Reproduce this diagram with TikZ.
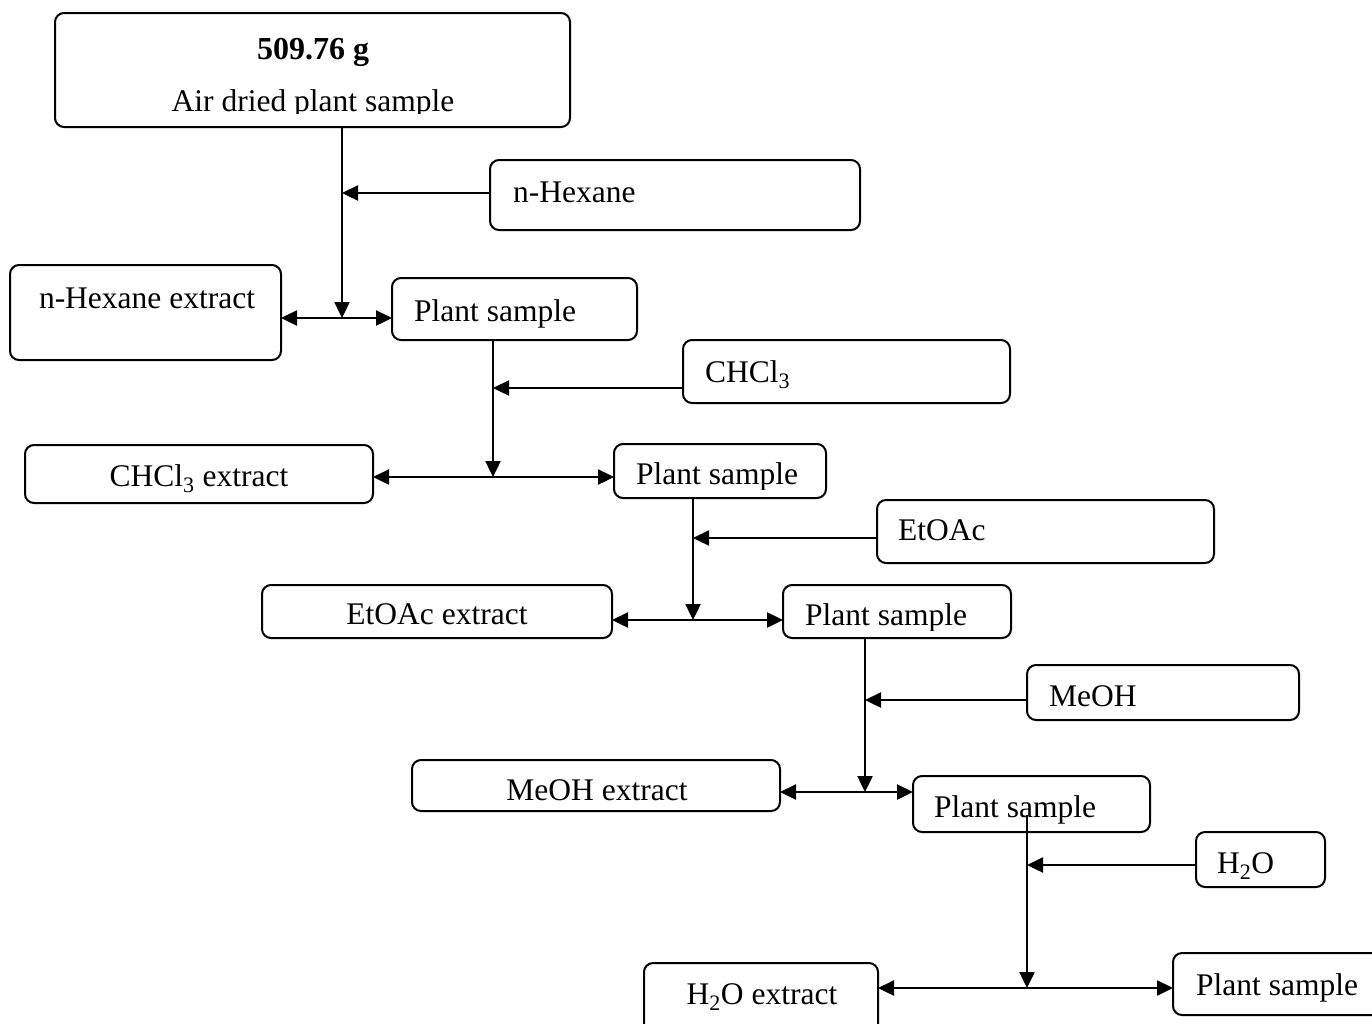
\documentclass[tikz,border=0pt]{standalone}
\usepackage{fontspec}
\setmainfont{Liberation Serif}
\usetikzlibrary{arrows.meta}
\begin{document}
\begin{tikzpicture}[x=1pt,y=-1pt,
  box/.style={draw, line width=2pt, rounded corners=9pt, inner sep=0pt, outer sep=0pt, anchor=north west},
  txt/.style={inner sep=0pt, font=\fontsize{31.5}{34}\selectfont},
  conn/.style={line width=2.4pt},
  arr/.style={conn, -{Triangle[length=16pt,width=15pt]}},
  darr/.style={conn, {Triangle[length=16pt,width=15pt]}-{Triangle[length=16pt,width=15pt]}}]
\useasboundingbox (0,0) rectangle (1372,1023);
\fill[white] (0,0) rectangle (1372,1023);

% boxes
\node[box, minimum width=515pt, minimum height=114pt] (top) at (55,13) {};
\node[box, minimum width=370pt, minimum height=70pt] (hex) at (490,160) {};
\node[box, minimum width=271pt, minimum height=95pt] (hexext) at (10,265) {};
\node[box, minimum width=245pt, minimum height=62pt] (ps1) at (392,278) {};
\node[box, minimum width=327pt, minimum height=63pt] (chcl) at (683,340) {};
\node[box, minimum width=348pt, minimum height=58pt] (chclext) at (25,445) {};
\node[box, minimum width=212pt, minimum height=54pt] (ps2) at (614,444) {};
\node[box, minimum width=337pt, minimum height=63pt] (etoac) at (877,500) {};
\node[box, minimum width=350pt, minimum height=53pt] (etoacext) at (262,585) {};
\node[box, minimum width=228pt, minimum height=53pt] (ps3) at (783,585) {};
\node[box, minimum width=272pt, minimum height=55pt] (meoh) at (1027,665) {};
\node[box, minimum width=368pt, minimum height=51pt] (meohext) at (412,760) {};
\node[box, minimum width=237pt, minimum height=56pt] (ps4) at (913,776) {};
\node[box, minimum width=129pt, minimum height=55pt] (h2o) at (1196,832) {};
\node[box, minimum width=234pt, minimum height=75pt] (h2oext) at (644,963) {};
\node[box, minimum width=215pt, minimum height=62pt] (ps5) at (1173,953) {};

% texts
\node[txt, anchor=base, font=\fontsize{32}{34}\selectfont\bfseries] (t0) at (313,59) {509.76 g};
\begin{scope}
  \clip (55,13) rectangle (570,113);
  \node[txt, anchor=base] (t1) at (313,111) {Air dried plant sample};
\end{scope}
\node[txt, anchor=base west] (thex) at (513,202) {n-Hexane};
\node[txt, anchor=base] (thexext) at (147,308) {n-Hexane extract};
\node[txt, anchor=base west] (tps1) at (414,321) {Plant sample};
\node[txt, anchor=base west] (tchcl) at (705,382) {CHCl\textsubscript{3}};
\node[txt, anchor=base] (tchclext) at (199,486) {CHCl\textsubscript{3} extract};
\begin{scope}
  \clip (614,444) rectangle (826,489);
  \node[txt, anchor=base west] (tps2) at (636,484) {Plant sample};
\end{scope}
\node[txt, anchor=base west] (tetoac) at (898,540) {EtOAc};
\node[txt, anchor=base] (tetoacext) at (437,624) {EtOAc extract};
\begin{scope}
  \clip (783,585) rectangle (1011,630);
  \node[txt, anchor=base west] (tps3) at (805,625) {Plant sample};
\end{scope}
\node[txt, anchor=base west] (tmeoh) at (1049,706) {MeOH};
\node[txt, anchor=base] (tmeohext) at (597,800) {MeOH extract};
\node[txt, anchor=base west] (tps4) at (934,817) {Plant sample};
\node[txt, anchor=base west] (th2o) at (1217,873) {H\textsubscript{2}O};
\node[txt, anchor=base] (th2oext) at (762,1004) {H\textsubscript{2}O extract};
\node[txt, anchor=base west] (tps5) at (1196,995) {Plant sample};

% junction coordinates
\coordinate (k1) at (342,193);
\coordinate (j1) at (342,318);
\coordinate (k2) at (493,388);
\coordinate (j2) at (493,477);
\coordinate (k3) at (693,538);
\coordinate (j3) at (693,620);
\coordinate (k4) at (865,700);
\coordinate (j4) at (865,792);
\coordinate (s5) at (1027,815);
\coordinate (k5) at (1027,865);
\coordinate (j5) at (1027,988);

% connectors
\draw[arr] (top.south -| j1) -- (j1);
\draw[arr] (hex.west |- k1) -- (k1);
\draw[darr] (hexext.east |- j1) -- (ps1.west |- j1);

\draw[arr] (ps1.south -| j2) -- (j2);
\draw[arr] (chcl.west |- k2) -- (k2);
\draw[darr] (chclext.east |- j2) -- (ps2.west |- j2);

\draw[arr] (ps2.south -| j3) -- (j3);
\draw[arr] (etoac.west |- k3) -- (k3);
\draw[darr] (etoacext.east |- j3) -- (ps3.west |- j3);

\draw[arr] (ps3.south -| j4) -- (j4);
\draw[arr] (meoh.west |- k4) -- (k4);
\draw[darr] (meohext.east |- j4) -- (ps4.west |- j4);

\draw[arr] (s5) -- (j5);
\draw[arr] (h2o.west |- k5) -- (k5);
\draw[darr] (h2oext.east |- j5) -- (ps5.west |- j5);
\end{tikzpicture}
\end{document}
